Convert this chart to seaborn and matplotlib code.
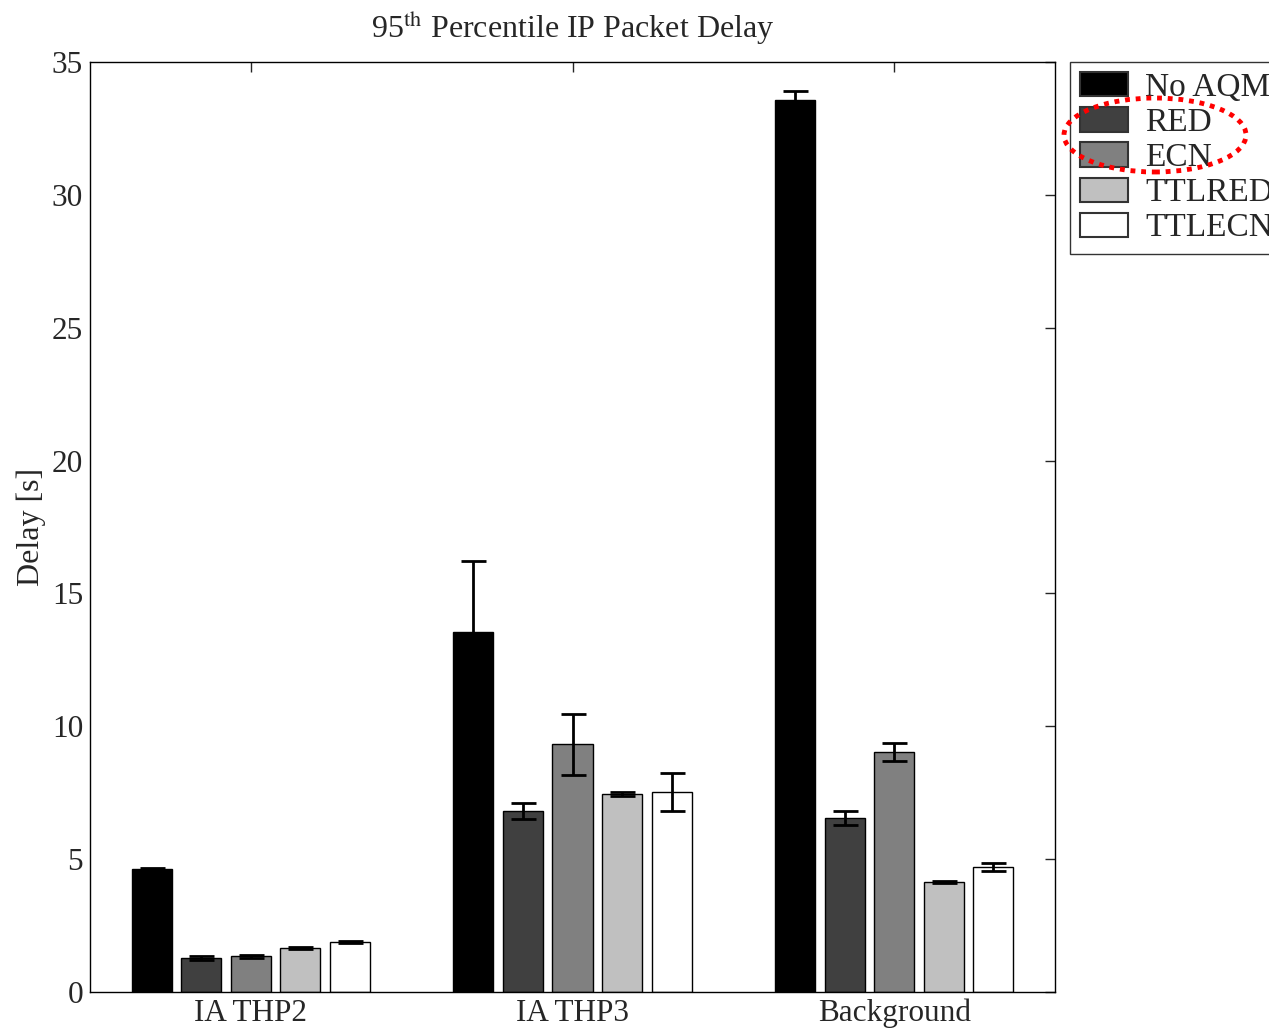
import numpy as np
import pandas as pd
import seaborn as sns
import matplotlib.pyplot as plt
from matplotlib.patches import Ellipse

# data
groups = ['IA THP2', 'IA THP3', 'Background']
schemes = ['No AQM', 'RED', 'ECN', 'TTLRED', 'TTLECN']
delay = {
    'No AQM': [4.63, 13.55, 33.57],
    'RED':    [1.28, 6.81, 6.55],
    'ECN':    [1.35, 9.33, 9.03],
    'TTLRED': [1.66, 7.45, 4.14],
    'TTLECN': [1.88, 7.53, 4.70],
}
err = {
    'No AQM': [0.04, 2.67, 0.33],
    'RED':    [0.06, 0.30, 0.28],
    'ECN':    [0.06, 1.15, 0.35],
    'TTLRED': [0.03, 0.08, 0.04],
    'TTLECN': [0.03, 0.70, 0.15],
}
greys = ['#000000', '#404040', '#808080', '#c0c0c0', '#ffffff']

rows = []
for s in schemes:
    for g, v in zip(groups, delay[s]):
        rows.append({'group': g, 'scheme': s, 'delay': v})
df = pd.DataFrame(rows)

sns.set_style('white')
plt.rcParams['font.family'] = ['Liberation Serif', 'DejaVu Serif']
plt.rcParams['mathtext.fontset'] = 'stix'

fig = plt.figure(figsize=(12.69, 10.34), dpi=100)
ax = fig.add_axes([0.0709, 0.0406, 0.7605, 0.8994])

sns.barplot(data=df, x='group', y='delay', hue='scheme', order=groups,
            hue_order=schemes, palette=greys, width=0.77, gap=0.19,
            edgecolor='black', linewidth=1.0, errorbar=None, ax=ax)

# error bars at the bar centres
for s, cont in zip(schemes, ax.containers):
    xs = [p.get_x() + p.get_width() / 2 for p in cont.patches]
    ax.errorbar(xs, delay[s], yerr=err[s], fmt='none', ecolor='black',
                elinewidth=2, capsize=9, capthick=2, zorder=5)

ax.set_xlim(-0.5, 2.5)
ax.set_ylim(0, 35)
ax.set_yticks(range(0, 36, 5))
ax.set_xlabel('')
ax.set_ylabel('Delay [s]', fontsize=23, labelpad=4)
ax.set_title('95$^{\\rm th}$ Percentile IP Packet Delay', fontsize=23, pad=17)
ax.tick_params(axis='both', direction='in', length=7, width=1, top=True,
               right=True, labelsize=22.5, pad=5)
for sp in ax.spines.values():
    sp.set_color('black')
    sp.set_linewidth(1)

ax.get_legend().remove()
handles = [plt.Rectangle((0, 0), 1, 1, facecolor=c, edgecolor='#333333', linewidth=1.5)
           for c in greys]
leg = fig.legend(handles, schemes, loc='upper left',
                 bbox_to_anchor=(1070 / 1269, 1 - 62 / 1034), fontsize=24,
                 frameon=True, fancybox=False, edgecolor='black',
                 handlelength=1.45, handleheight=0.75, labelspacing=0.13,
                 handletextpad=0.5, borderpad=0.3, borderaxespad=0)
leg.get_frame().set_linewidth(1)

# red dotted highlight around RED / ECN, drawn over the legend
hl = Ellipse((1155 / 1269, 1 - 135 / 1034), 182 / 1269, 74 / 1034,
             transform=fig.transFigure, fill=False, edgecolor='red',
             linestyle=(0, (1, 1.2)), linewidth=3.5, zorder=10)
fig.add_artist(hl)

fig.savefig('out.png', dpi=100)
